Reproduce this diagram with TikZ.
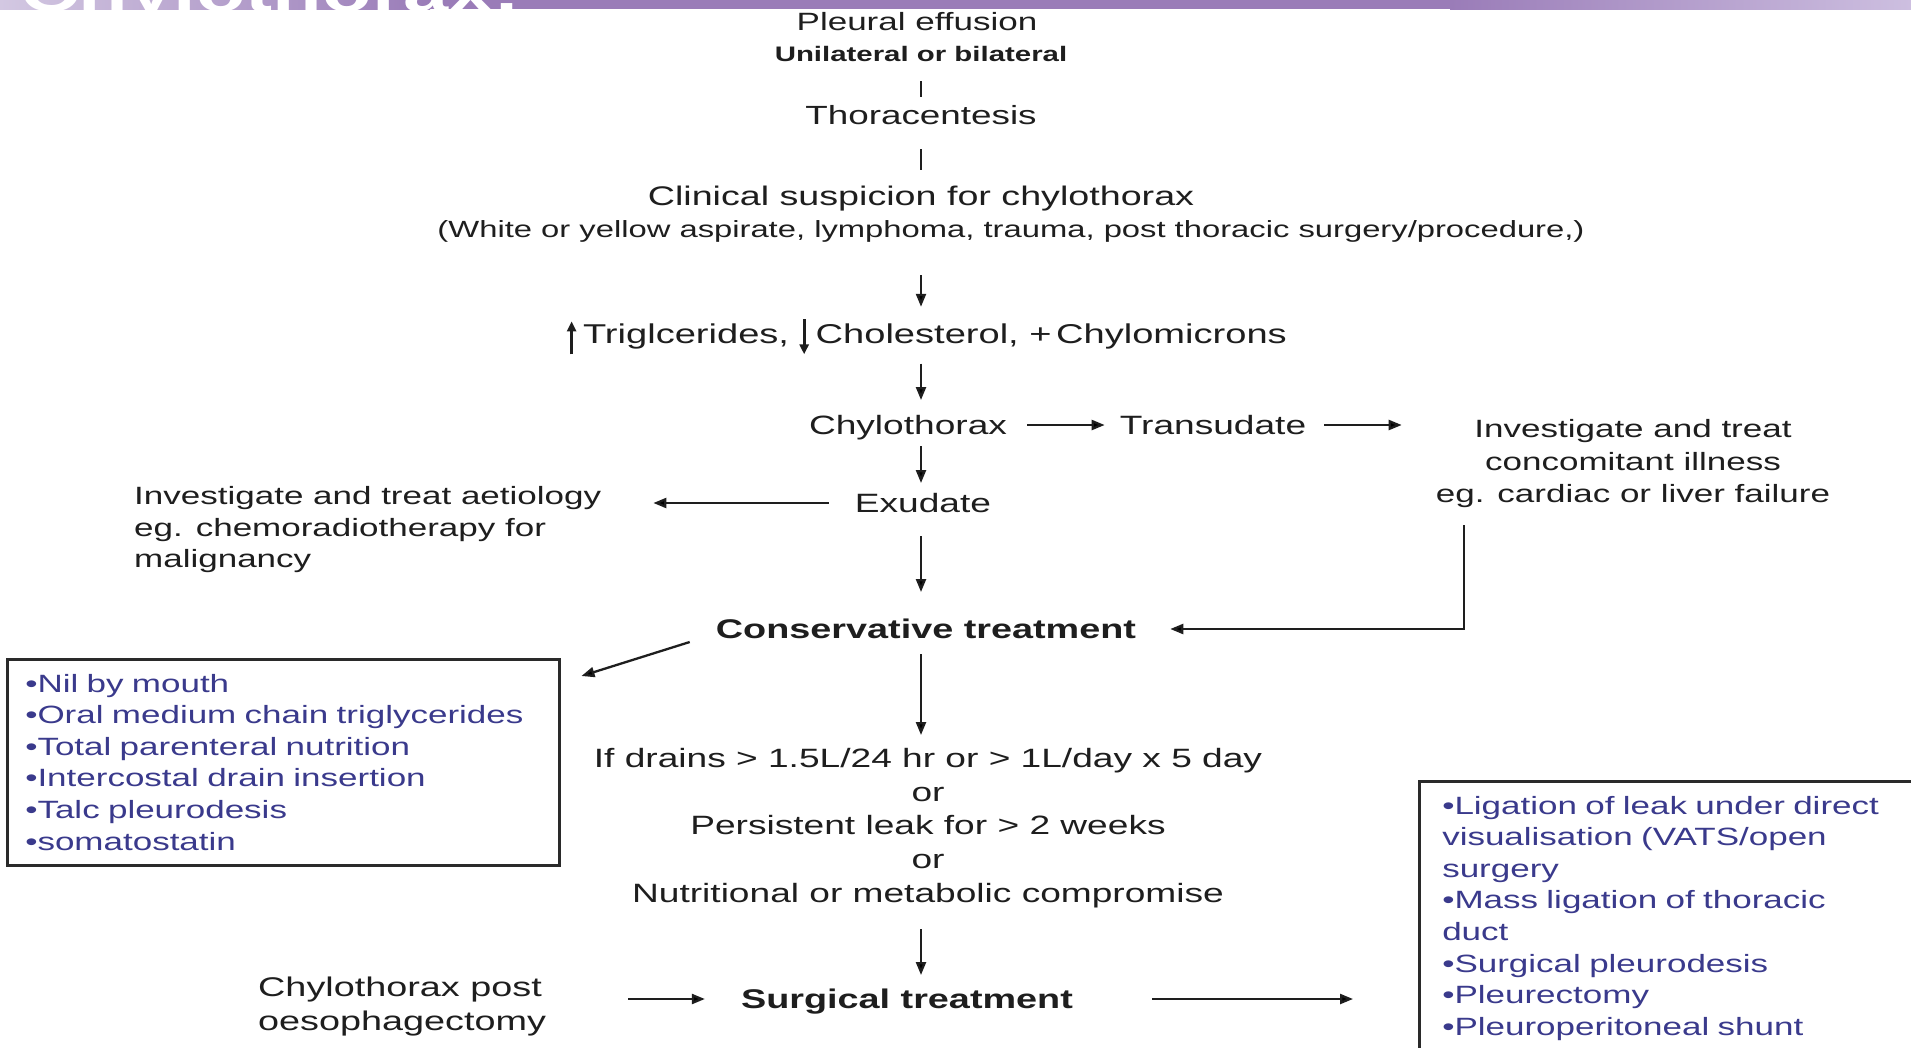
\documentclass[tikz,border=0pt]{standalone}
\usepackage{fontspec}
\setmainfont{Liberation Sans}[FakeStretch=1.4]
\usetikzlibrary{arrows.meta}
\definecolor{ink}{HTML}{1E1E1E}
\definecolor{listblue}{RGB}{58,58,140}
\definecolor{boxline}{HTML}{2A2A2A}
\definecolor{bannerL}{HTML}{D3C8E2}
\definecolor{bannerM}{HTML}{9A7CB8}
\definecolor{bannerR}{HTML}{CDBFE0}
\newcommand\uparw{\tikz[baseline=0pt]\draw[draw=ink,line width=2.8pt,-{Triangle[length=10pt,width=9pt]}] (0pt,-11pt) -- (0pt,22pt);}
\newcommand\downarw{\tikz[baseline=0pt]\draw[draw=ink,line width=2.8pt,-{Triangle[length=10pt,width=9pt]}] (0pt,24pt) -- (0pt,-11pt);}
\begin{document}
\begin{tikzpicture}[x=1pt,y=-1pt,
  arr/.style={draw=ink, line width=2.3pt, -{Triangle[length=13pt,width=10pt]}},
  tk/.style={draw=ink, line width=2pt},
  base/.style={inner sep=0pt, text=ink},
  one/.style={text height=#1, text depth=0pt},
  lst/.style={draw=boxline, line width=2.5pt, anchor=north west, align=left, text=listblue,
              inner ysep=0pt, font=\fontsize{25}{31.6}\selectfont}]
\useasboundingbox (0,0) rectangle (1911,1047);
\fill[white] (0,0) rectangle (1911,1047);
% banner
\shade[left color=bannerL, right color=bannerM] (0,0) rectangle (430,9);
\fill[bannerM] (430,0) rectangle (1450,9);
\shade[left color=bannerM, right color=bannerR] (1450,0) rectangle (1911,9);
\begin{scope}
\clip (0,0) rectangle (1911,9);
\node[anchor=base west, inner sep=0pt, text=white, font=\fontsize{58}{58}\selectfont\bfseries] (title) at (20,11) {Chylothorax:};
\end{scope}
% nodes
\coordinate (ax) at (921,0);
\coordinate (rx) at (1464,0);
\node[base, font=\fontsize{25}{30}\selectfont, one=17.2pt] (pe) at (917,22) {Pleural effusion};
\node[base, font=\fontsize{21}{25}\selectfont\bfseries, one=14.5pt] (uni) at (921,54) {Unilateral or bilateral};
\node[base, font=\fontsize{26.3}{31}\selectfont, one=18.1pt] (thor) at (921,115) {Thoracentesis};
\node[base, font=\fontsize{26.9}{32}\selectfont, one=18.5pt] (clin) at (921,196) {Clinical suspicion for chylothorax};
\node[base, font=\fontsize{23.4}{28}\selectfont, one=16.1pt] (asp) at (1011,229) {(White or yellow aspirate, lymphoma, trauma, post thoracic surgery/procedure,)};
\node[base, font=\fontsize{27.2}{32}\selectfont, one=18.7pt] (trig) at (927,334) {\uparw\hspace{7pt}Triglcerides, \downarw\hspace{7pt}Cholesterol, +\,Chylomicrons};
\node[base, font=\fontsize{26.5}{32}\selectfont, one=18.2pt] (chy) at (908,425) {Chylothorax};
\node[base, font=\fontsize{26.5}{32}\selectfont, one=18.2pt] (tra) at (1213,425) {Transudate};
\node[base, font=\fontsize{25}{32.5}\selectfont, align=center, anchor=north] (inv2) at (1633,419.5) {Investigate and treat\\concomitant illness\\eg. cardiac or liver failure};
\node[base, font=\fontsize{26.5}{32}\selectfont, one=18.2pt] (exu) at (923,503) {Exudate};
\node[base, font=\fontsize{25}{31.5}\selectfont, align=left, anchor=north west] (inv1) at (134,486.5) {Investigate and treat aetiology\\eg. chemoradiotherapy for\\malignancy};
\node[base, font=\fontsize{27}{32}\selectfont\bfseries, one=18.6pt] (cons) at (926,629) {Conservative treatment};
\node[lst, text width=516pt, minimum height=206pt, inner xsep=18pt] (lbox) at (6,658) {•Nil by mouth\\•Oral medium chain triglycerides\\•Total parenteral nutrition\\•Intercostal drain insertion\\•Talc pleurodesis\\•somatostatin};
\node[base, font=\fontsize{26.5}{33.75}\selectfont, align=center, anchor=north] (crit) at (928,748) {If drains > 1.5L/24 hr or > 1L/day x 5 day\\or\\Persistent leak for > 2 weeks\\or\\Nutritional or metabolic compromise};
\node[base, font=\fontsize{27}{32}\selectfont\bfseries, one=18.6pt] (surg) at (907,999) {Surgical treatment};
\node[base, font=\fontsize{27}{34}\selectfont, align=left, anchor=north west] (post) at (258,976.5) {Chylothorax post\\oesophagectomy};
\node[lst, text width=480pt, minimum height=274pt, inner xsep=23pt] (rbox) at (1418,780) {•Ligation of leak under direct\\visualisation (VATS/open\\surgery\\•Mass ligation of thoracic\\duct\\•Surgical pleurodesis\\•Pleurectomy\\•Pleuroperitoneal shunt};
% connectors
\draw[tk, shorten <=19.6pt, shorten >=9pt] (uni.south -| ax) -- (thor.north -| ax);
\draw[tk, shorten <=25pt, shorten >=16.7pt] (thor.south -| ax) -- (clin.north -| ax);
\draw[arr, shorten <=38pt, shorten >=17.7pt] (asp.south -| ax) -- (trig.north -| ax);
\draw[arr, shorten <=20pt, shorten >=15.7pt] (trig.south -| ax) -- (chy.north -| ax);
\draw[arr, shorten <=20pt, shorten >=15pt] (chy.east) -- (tra.west);
\draw[arr, shorten <=18pt, shorten >=34pt] (tra.east) -- (tra.east -| inv2.west);
\draw[arr, shorten <=12pt, shorten >=10.7pt] (chy.south -| ax) -- (exu.north -| ax);
\draw[arr, shorten <=26pt, shorten >=52pt] (exu.west) -- (exu.west -| inv1.east);
\draw[arr, shorten <=24pt, shorten >=27.5pt] (exu.south -| ax) -- (cons.north -| ax);
\draw[arr, shorten <=17pt, shorten >=34pt] (inv2.south -| rx) |- (cons.east);
\draw[arr] ([xshift=-26pt,yshift=-13pt]cons.west) -- ([xshift=21pt,yshift=-18pt]lbox.north east);
\draw[arr, shorten <=15.5pt, shorten >=13pt] (cons.south -| ax) -- (crit.north -| ax);
\draw[arr, shorten <=21pt, shorten >=14.5pt] (crit.south -| ax) -- (surg.north -| ax);
\draw[arr, shorten <=82pt, shorten >=36pt] (post.east |- surg.west) -- (surg.west);
\draw[arr, shorten <=79pt, shorten >=65pt] (surg.east) -- (surg.east -| rbox.west);
\end{tikzpicture}
\end{document}
